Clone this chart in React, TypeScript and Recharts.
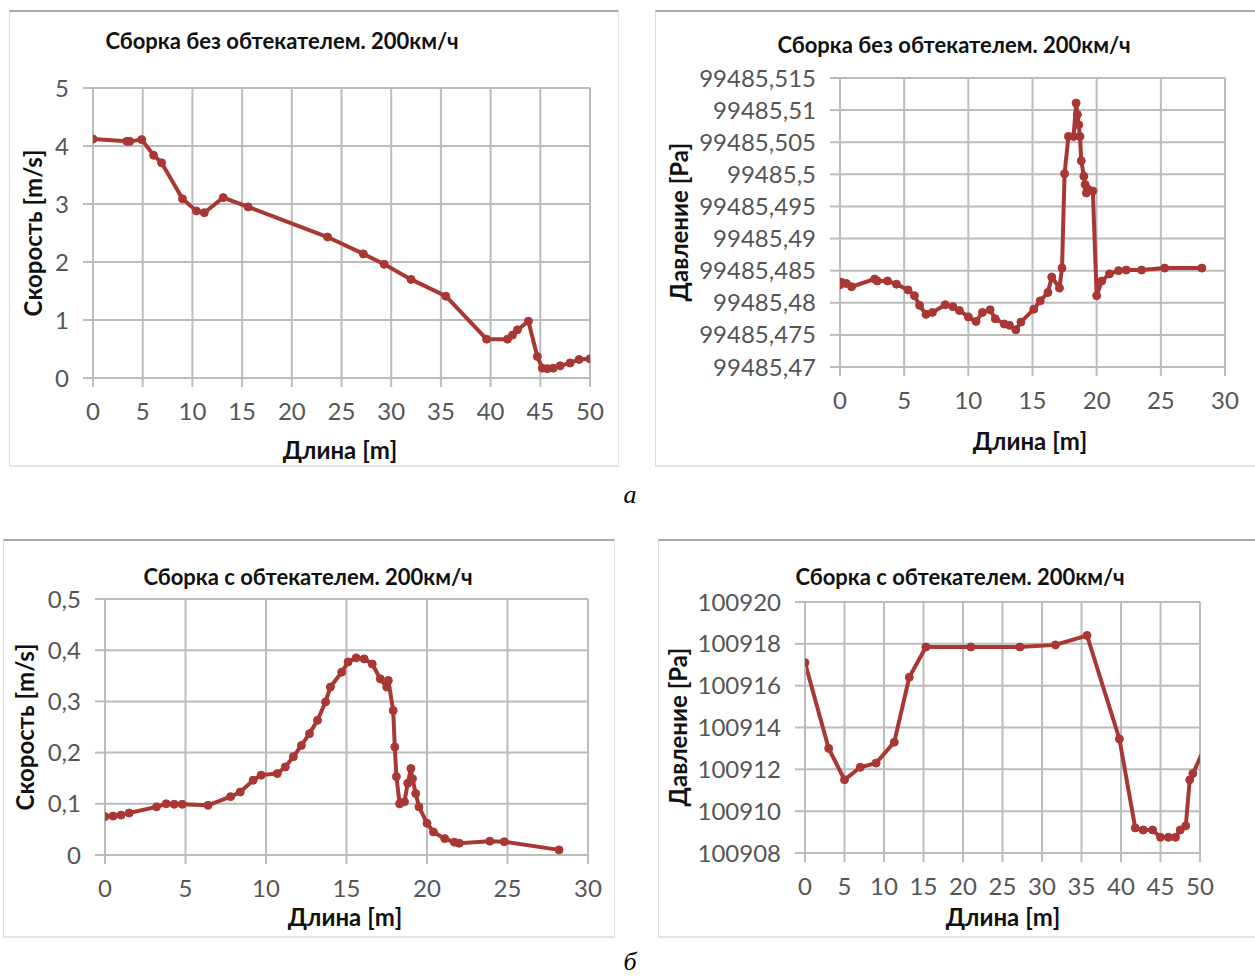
import React from "react";
import { LineChart, Line, XAxis, YAxis, CartesianGrid } from "recharts";

// а: сборка без обтекателя — скорость
const speedNoFairingX = [0, 3.4, 3.7, 4.9, 6.1, 6.9, 9.0, 10.4, 11.2, 13.1, 15.6, 23.6, 27.2, 29.3, 32.0, 35.5, 39.6, 41.7, 42.2, 42.7, 43.8, 44.7, 45.2, 45.7, 46.3, 47.0, 48.0, 48.9, 50];
const speedNoFairingY = [4.12, 4.08, 4.08, 4.11, 3.84, 3.71, 3.09, 2.88, 2.85, 3.11, 2.95, 2.43, 2.14, 1.96, 1.7, 1.41, 0.67, 0.67, 0.74, 0.83, 0.98, 0.37, 0.17, 0.16, 0.17, 0.21, 0.26, 0.32, 0.33];

// а: сборка без обтекателя — давление
const pressNoFairingX = [0, 0.1, 0.5, 0.9, 2.7, 2.9, 3.7, 4.4, 5.3, 5.8, 6.2, 6.7, 7.2, 8.2, 8.8, 9.3, 10.0, 10.6, 11.1, 11.7, 12.1, 12.8, 13.2, 13.7, 14.1, 15.1, 15.6, 16.2, 16.5, 17.1, 17.3, 17.5, 17.8, 18.2, 18.4, 18.5, 18.6, 18.7, 18.8, 19.0, 19.1, 19.2, 19.3, 19.7, 20.0, 20.4, 21.0, 21.7, 22.3, 23.5, 25.3, 28.2];
const pressNoFairingY = [99485.4828, 99485.4832, 99485.483, 99485.4825, 99485.4837, 99485.4834, 99485.4834, 99485.4829, 99485.482, 99485.4811, 99485.4796, 99485.4782, 99485.4785, 99485.4797, 99485.4794, 99485.4788, 99485.4778, 99485.4771, 99485.4785, 99485.4789, 99485.4775, 99485.4767, 99485.4765, 99485.4758, 99485.477, 99485.479, 99485.4803, 99485.4816, 99485.484, 99485.4823, 99485.4854, 99485.5001, 99485.5059, 99485.5059, 99485.5111, 99485.5093, 99485.5077, 99485.5059, 99485.5021, 99485.4997, 99485.4984, 99485.4971, 99485.4977, 99485.4974, 99485.4811, 99485.4834, 99485.4845, 99485.485, 99485.4851, 99485.4851, 99485.4854, 99485.4854];

// б: сборка с обтекателем — скорость
const speedFairingX = [0, 0.5, 1.0, 1.5, 3.2, 3.8, 4.3, 4.8, 6.4, 7.8, 8.4, 9.2, 9.7, 10.7, 11.2, 11.7, 12.2, 12.7, 13.2, 13.7, 14.0, 14.7, 15.1, 15.6, 16.1, 16.6, 17.1, 17.5, 17.6, 17.9, 18.0, 18.1, 18.3, 18.6, 18.8, 19.0, 19.1, 19.3, 19.5, 20.0, 20.4, 21.1, 21.7, 22.0, 23.9, 24.8, 28.2];
const speedFairingY = [0.075, 0.076, 0.078, 0.082, 0.094, 0.1, 0.099, 0.099, 0.097, 0.114, 0.123, 0.146, 0.156, 0.159, 0.172, 0.192, 0.214, 0.237, 0.263, 0.299, 0.328, 0.357, 0.377, 0.385, 0.383, 0.373, 0.344, 0.328, 0.341, 0.282, 0.211, 0.153, 0.1, 0.104, 0.14, 0.169, 0.149, 0.12, 0.094, 0.062, 0.045, 0.032, 0.025, 0.023, 0.027, 0.026, 0.01];

// б: сборка с обтекателем — давление
const pressFairingX = [0, 3, 5, 7, 9, 11.3, 13.2, 15.3, 21, 27.2, 31.7, 35.7, 39.8, 41.8, 42.8, 44, 45, 46, 46.9, 47.5, 48.2, 48.7, 49.1, 52];
const pressFairingY = [100917.1, 100913, 100911.5, 100912.1, 100912.3, 100913.3, 100916.4, 100917.85, 100917.85, 100917.85, 100917.95, 100918.4, 100913.45, 100909.2, 100909.1, 100909.1, 100908.75, 100908.75, 100908.75, 100909.1, 100909.3, 100911.5, 100911.8, 100914.2];

const speedATicks = [0, 1, 2, 3, 4, 5];
const pressATicks = [99485.47, 99485.475, 99485.48, 99485.485, 99485.49, 99485.495, 99485.5, 99485.505, 99485.51, 99485.515];
const speedBTicks = [0, 0.1, 0.2, 0.3, 0.4, 0.5];
const pressBTicks = [100908, 100910, 100912, 100914, 100916, 100918, 100920];
const len50Ticks = [0, 5, 10, 15, 20, 25, 30, 35, 40, 45, 50];
const len30Ticks = [0, 5, 10, 15, 20, 25, 30];

const TITLE_A = "Сборка без обтекателем. 200км/ч";
const TITLE_B = "Сборка с обтекателем. 200км/ч";

const RED = "#a93733";
const GRID = "#bcbcbc";
const FONT = "Lato, 'Open Sans', sans-serif";

const toRows = (xs: number[], ys: number[]) => xs.map((x, i) => ({ x, y: ys[i] }));

const comma = (v: number) => String(Math.round(v * 1000) / 1000).replace(".", ",");

type PlotProps = {
  rows: { x: number; y: number }[];
  x0: number; x1: number; y0: number; y1: number;
  xTicks: number[]; yTicks: number[];
  fontSize: number;
};

function Plot({ rows, x0, x1, y0, y1, xTicks, yTicks, fontSize }: PlotProps) {
  const yW = 140;
  const top = 15;
  const xH = 60;
  const w = x1 - x0 + yW + 20;
  const h = y1 - y0 + top + xH;
  return (
    <div style={{ position: "absolute", left: x0 - yW, top: y0 - top }}>
      <LineChart width={w} height={h} data={rows} margin={{ top, right: 20, left: 0, bottom: 0 }}>
        <CartesianGrid stroke={GRID} strokeWidth={2} />
        <XAxis
          dataKey="x"
          type="number"
          domain={[xTicks[0], xTicks[xTicks.length - 1]]}
          ticks={xTicks}
          allowDataOverflow
          height={xH}
          stroke={GRID}
          strokeWidth={2}
          tickSize={9}
          tickMargin={16}
          tick={{ fill: "#555", fontSize, fontFamily: FONT }}
        />
        <YAxis
          type="number"
          domain={[yTicks[0], yTicks[yTicks.length - 1]]}
          ticks={yTicks}
          allowDataOverflow
          width={yW}
          stroke={GRID}
          strokeWidth={2}
          tickSize={10}
          tickMargin={14}
          tickFormatter={comma}
          tick={{ fill: "#555", fontSize, fontFamily: FONT }}
        />
        <Line
          dataKey="y"
          stroke={RED}
          strokeWidth={4}
          dot={{ r: 4, fill: RED, stroke: RED, strokeWidth: 1 }}
          isAnimationActive={false}
        />
      </LineChart>
    </div>
  );
}

const Txt = ({ s, x, y, size, rotate = false }: { s: string; x: number; y: number; size: number; rotate?: boolean }) => (
  <div
    style={{
      position: "absolute",
      left: x,
      top: y,
      transform: "translate(-50%, -50%)" + (rotate ? " rotate(-90deg)" : ""),
      whiteSpace: "nowrap",
      fontFamily: FONT,
      fontWeight: 700,
      fontSize: size,
      lineHeight: 1,
      color: "#111",
    }}
  >
    {s}
  </div>
);

const panel = (l: number, t: number, r: number, b: number) => (
  <div
    style={{
      position: "absolute",
      left: l,
      top: t,
      width: r - l,
      height: b - t,
      borderTop: "2px solid #a8a8a8",
      borderLeft: "1px solid #dadada",
      borderBottom: "2px solid #e4e4e4",
      borderRight: "1px solid #e4e4e4",
      boxSizing: "border-box",
    }}
  />
);

export default function App() {
  return (
    <div style={{ position: "absolute", left: 0, top: 0, width: 1255, height: 977, background: "#fff", overflow: "hidden" }}>
      {panel(9, 10, 619, 467)}
      {panel(655, 10, 1262, 467)}
      {panel(3, 539, 615, 938)}
      {panel(658, 539, 1262, 938)}

      <Plot rows={toRows(speedNoFairingX, speedNoFairingY)} x0={93} x1={590} y0={88} y1={378} xTicks={len50Ticks} yTicks={speedATicks} fontSize={24} />
      <Plot rows={toRows(pressNoFairingX, pressNoFairingY)} x0={840} x1={1225} y0={78} y1={367} xTicks={len30Ticks} yTicks={pressATicks} fontSize={24} />
      <Plot rows={toRows(speedFairingX, speedFairingY)} x0={105} x1={588} y0={599} y1={855} xTicks={len30Ticks} yTicks={speedBTicks} fontSize={24} />
      <Plot rows={toRows(pressFairingX, pressFairingY)} x0={805} x1={1200} y0={602} y1={853} xTicks={len50Ticks} yTicks={pressBTicks} fontSize={24} />

      <Txt s={TITLE_A} x={282} y={41} size={22} />
      <Txt s={TITLE_A} x={954} y={45} size={22} />
      <Txt s={TITLE_B} x={308} y={577} size={22} />
      <Txt s={TITLE_B} x={960} y={577} size={22} />

      <Txt s="Длина [m]" x={340} y={450} size={24} />
      <Txt s="Длина [m]" x={1030} y={441} size={24} />
      <Txt s="Длина [m]" x={345} y={917} size={24} />
      <Txt s="Длина [m]" x={1003} y={917} size={24} />

      <Txt s="Скорость [m/s]" x={33} y={233} size={24} rotate />
      <Txt s="Давление [Pa]" x={679} y={222} size={24} rotate />
      <Txt s="Скорость [m/s]" x={25} y={727} size={24} rotate />
      <Txt s="Давление [Pa]" x={678} y={727} size={24} rotate />

      <div style={{ position: "absolute", left: 630, top: 495, transform: "translate(-50%, -50%)", fontFamily: "'Liberation Serif', serif", fontStyle: "italic", fontSize: 26 }}>а</div>
      <div style={{ position: "absolute", left: 630, top: 962, transform: "translate(-50%, -50%)", fontFamily: "'Liberation Serif', serif", fontStyle: "italic", fontSize: 26 }}>б</div>
    </div>
  );
}
